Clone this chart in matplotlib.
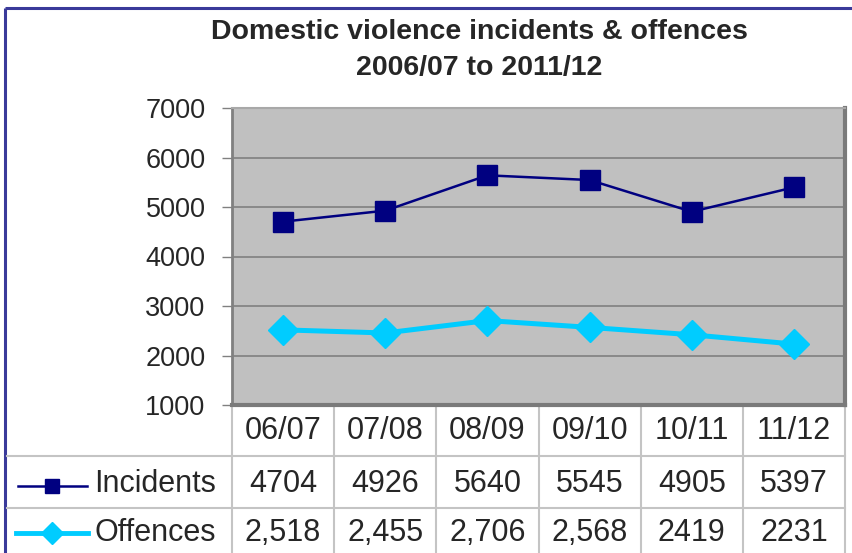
import matplotlib.pyplot as plt
from matplotlib.lines import Line2D

plt.rcParams['font.family'] = ['Liberation Sans', 'DejaVu Sans']

# --- dados ---
anos = ['06/07', '07/08', '08/09', '09/10', '10/11', '11/12']
incidentes = [4704, 4926, 5640, 5545, 4905, 5397]
ofensas = [2518, 2455, 2706, 2568, 2419, 2231]
rotulos_incidentes = ['4704', '4926', '5640', '5545', '4905', '5397']
rotulos_ofensas = ['2,518', '2,455', '2,706', '2,568', '2419', '2231']
series = ['Incidents', 'Offences']

cor_inc = '#000080'
cor_off = '#00CCFF'
cor_texto = '#262626'

W, H = 852, 553
fig = plt.figure(figsize=(W / 100, H / 100), dpi=100)
fig.patch.set_facecolor('white')

# camada de fundo em pixels (tabela, borda, titulo)
bg = fig.add_axes([0, 0, 1, 1])
bg.set_xlim(0, W)
bg.set_ylim(H, 0)
bg.axis('off')

# borda externa
bg.plot([5, W], [8, 8], color='#3a3a9a', lw=2.2, solid_capstyle='butt')
bg.plot([5, 5], [8, H], color='#3a3a9a', lw=2.2, solid_capstyle='butt')

bg.text(479, 32, 'Domestic violence incidents & offences', ha='center', va='center',
        fontsize=20.5, fontweight='bold', color=cor_texto)
bg.text(479, 68, '2006/07 to 2011/12', ha='center', va='center',
        fontsize=20.5, fontweight='bold', color=cor_texto)

# grade da tabela
x0, x1 = 232, 845
col_w = (x1 - x0) / len(anos)
y_top, y_r1, y_r2, y_bot = 405, 456, 508, H + 2
cor_grade = '#c4c4c4'
for i in range(len(anos) + 1):
    xx = x0 + i * col_w
    bg.plot([xx, xx], [y_top, y_bot], color=cor_grade, lw=1.5)
bg.plot([7, x1], [y_r1, y_r1], color=cor_grade, lw=1.5)
bg.plot([7, x1], [y_r2, y_r2], color=cor_grade, lw=1.5)

linhas_y = [431, 484, 533]
fs_tab = 22
for i, ano in enumerate(anos):
    cx = x0 + (i + 0.5) * col_w
    bg.text(cx, linhas_y[0], ano, ha='center', va='center', fontsize=fs_tab, color=cor_texto)
    bg.text(cx, linhas_y[1], rotulos_incidentes[i], ha='center', va='center', fontsize=fs_tab, color=cor_texto)
    bg.text(cx, linhas_y[2], rotulos_ofensas[i], ha='center', va='center', fontsize=fs_tab, color=cor_texto)

# chaves da legenda dentro da tabela
bg.add_line(Line2D([18, 87], [486, 486], color=cor_inc, lw=1.8))
bg.plot([52], [486], marker='s', ms=10, color=cor_inc)
bg.add_line(Line2D([16, 88], [533, 533], color=cor_off, lw=3.5))
bg.plot([52], [533], marker='D', ms=11, color=cor_off)
bg.text(94, linhas_y[1], series[0], ha='left', va='center', fontsize=fs_tab, color=cor_texto)
bg.text(94, linhas_y[2], series[1], ha='left', va='center', fontsize=fs_tab, color=cor_texto)

# --- grafico principal ---
ax = fig.add_axes([x0 / W, (H - 405) / H, (x1 - x0) / W, (405 - 108) / H])
ax.set_facecolor('#c0c0c0')
x = list(range(len(anos)))
ax.plot(x, incidentes, color=cor_inc, lw=1.8, marker='s', ms=15, zorder=3)
ax.plot(x, ofensas, color=cor_off, lw=3.6, marker='D', ms=15, zorder=3)

ax.set_xlim(-0.5, len(anos) - 0.5)
ax.set_ylim(1000, 7000)
ax.set_yticks(range(1000, 7001, 1000))
ax.set_xticks([])
ax.grid(axis='y', color='#808080', lw=1.2)
ax.set_axisbelow(True)
ax.tick_params(axis='y', length=7, width=1, color='#808080', labelsize=19.5,
               labelcolor=cor_texto, pad=12)
ax.spines['left'].set_color('#808080')
ax.spines['left'].set_linewidth(2)
ax.spines['top'].set_color('#a8a8a8')
ax.spines['top'].set_linewidth(1.5)
ax.spines['right'].set_color('#7a7a7a')
ax.spines['right'].set_linewidth(3)
ax.spines['bottom'].set_color('#7a7a7a')
ax.spines['bottom'].set_linewidth(3)

plt.savefig('out.png', dpi=100)
